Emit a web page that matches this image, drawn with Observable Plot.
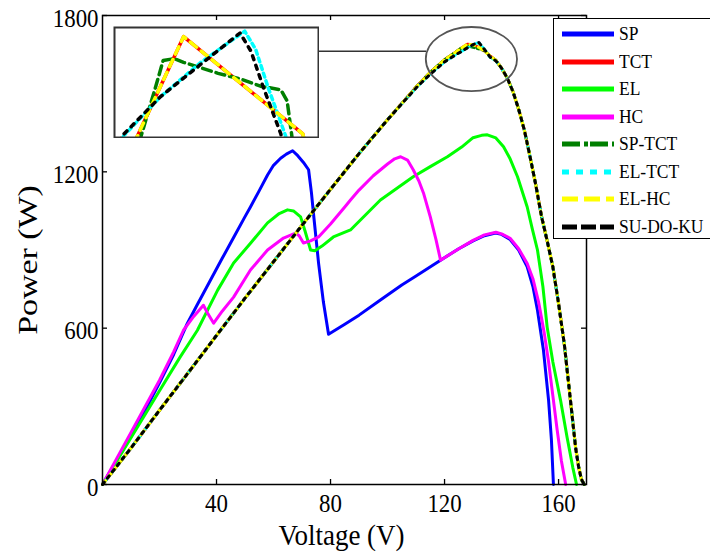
<!DOCTYPE html>
<html><head><meta charset="utf-8">
<script src="https://cdn.jsdelivr.net/npm/d3@7"></script>
<script src="https://cdn.jsdelivr.net/npm/@observablehq/plot@0.6"></script>
<style>
body{margin:0;background:#fff;}
#wrap{position:relative;width:710px;height:554px;overflow:hidden;background:#fff;}
#inset{position:absolute;left:113px;top:26px;}
#legend{position:absolute;left:553px;top:18px;width:170px;height:221px;border:1.5px solid #000;background:#fff;box-sizing:border-box;}
.row{position:absolute;left:8px;height:20px;display:flex;align-items:center;}
.row span{display:inline-block;font-family:"Liberation Serif","Times New Roman",serif;font-size:19px;transform:scaleX(0.92);transform-origin:left center;margin-left:5px;color:#000;}
</style></head><body>
<div id="wrap"><div id="main"></div><div id="inset"></div><div id="legend"></div></div>
<script>
// ---------- data ----------
const seriesNames = ["SP","TCT","EL","HC","SP-TCT","EL-TCT","EL-HC","SU-DO-KU"];
const seriesColors = ["#0000ff","#ff0000","#00ff00","#ff00ff","#007f00","#00ffff","#ffff00","#000000"];

const xTicks = [40, 80, 120, 160];
const yTicks = [0, 600, 1200, 1800];

// SP
const vSP = [0,10,16.8,20,25,29.8,33,37.9,42,46,50,51.9,55,57.9,60,62.5,64.5,66.7,68.5,70.5,72.3,73.3,74,75.8,77.5,79.3,85,90,97.5,105,110,118.6,125,130,134,137.9,140,143,146,149,151,152.6,154.7,156.5,157.5,158.2];
const pSP = [0,185,323,390,500,619,685,785,868,948,1028,1065,1128,1188,1225,1252,1268,1281,1262,1236,1208,1120,1042,850,700,577,615,650,708,766,800,861,905,935,955,965,960,940,900,835,760,669,515,323,170,0];

// EL
const vEL = [0,10,20,27,33.3,40.4,46,52,57.9,62,64.9,67,69.5,71,73,74.5,77,81,87,97.5,109,115,121,126,130,133,135,138,140.7,143,145.6,149,150.8,152.6,154.5,156,158,160.7,163,165,166.3];
const pEL = [0,180,360,485,592,746,850,927,1004,1040,1054,1050,1027,975,900,897,915,950,977,1092,1181,1220,1258,1295,1331,1340,1342,1330,1296,1250,1181,1065,980,900,760,604,470,323,180,65,0];

// HC
const vHC = [0,10,20,25,28.4,32,35.4,37,39,42,46,51.9,57.9,63.5,67.7,69,70.5,73,75.8,80,85,87,90,95,100,102.5,104.6,107,109,111,112.6,115,117,118.6,125,130,134,138,140,143,146,149,151,153,155,156.5,158,159.5,161,162.5];
const pHC = [0,200,400,510,592,645,688,655,619,665,719,823,900,946,965,955,927,935,950,1000,1065,1092,1130,1185,1230,1250,1258,1245,1208,1165,1119,1027,940,861,905,937,958,968,962,945,905,848,790,700,580,470,340,210,90,0];

// shared voltage grid of the five near-identical curves
const vGroup = [0,10,20,30,40,50,60,70,80,90,100,110,115,120,124,126,128,130,132,134,136,138,140,142,144,146,148,150,152,154,156,158,160,162,164,166,167,168,169];
const pTCT    = [0,140,285,428,572,715,855,995,1133,1270,1400,1525,1582,1630,1660,1675,1690,1688,1678,1664,1645,1628,1598,1560,1508,1440,1360,1258,1150,1030,935,835,695,540,340,140,70,20,0];
const pSPTCT  = [0,140,285,428,572,715,855,995,1133,1270,1400,1525,1582,1630,1660,1676,1684,1678,1672,1666,1642,1628,1598,1560,1508,1440,1360,1258,1150,1030,935,835,695,540,340,140,70,20,0];
const pELTCT  = [0,140,285,428,572,715,855,995,1133,1270,1400,1522,1575,1622,1650,1662,1676,1688,1697,1670,1640,1626,1598,1560,1508,1440,1360,1258,1150,1030,935,835,695,540,340,140,70,20,0];
const pELHC   = [0,140,285,428,572,715,855,995,1133,1270,1400,1525,1582,1630,1660,1675,1690,1688,1678,1664,1645,1628,1598,1560,1508,1440,1360,1258,1150,1030,935,835,695,540,340,140,70,20,0];
const pSUDOKU = [0,140,285,428,572,715,855,995,1133,1270,1400,1522,1575,1622,1650,1662,1676,1688,1697,1670,1640,1626,1598,1560,1508,1440,1360,1258,1150,1030,935,835,695,540,340,140,70,20,0];

// inset (zoom of the peak)
const insetXDomain = [124, 137];
const insetYDomain = [1640, 1700];
const ivTCT = [124.9,125.47,128.4,136.0,136.3];
const ipTCT = [1630,1641,1695,1642,1630];
const ivSPTCT = [125.5,125.7,126.6,127.1,127.8,128.4,129.5,130.6,132.0,133.3,134.6,135.0,135.3,135.4];
const ipSPTCT = [1630,1641,1667,1682,1683,1681,1678,1675,1672,1668,1666,1660,1641,1630];
const ivELTCT = [124.0,124.6,126.9,129.5,132.3,133.0,133.8,134.9,135.1];
const ipELTCT = [1633,1641,1662,1681,1698,1688,1667,1641,1630];
const ivELHC = [124.9,125.47,128.4,136.0,136.3];
const ipELHC = [1630,1641,1695,1642,1630];
const ivSUDOKU = [123.9,124.5,126.9,129.5,132.0,132.7,133.5,134.6,134.8];
const ipSUDOKU = [1633,1641,1662,1680,1697,1687,1667,1642,1630];

// annotation: ellipse around the peak and arrow to the inset
const ellipseV = [129.6], ellipseP = [1631], ellipseHalfV = [16], ellipseHalfP = [123];
const arrowFromV = [113.7], arrowToV = [70.2], arrowP = [1661];

// ---------- build ----------
const mainSeries = [
  [vSP, pSP], [vGroup, pTCT], [vEL, pEL], [vHC, pHC],
  [vGroup, pSPTCT], [vGroup, pELTCT], [vGroup, pELHC], [vGroup, pSUDOKU]
];
const mainDash = [null, null, null, null, "6,3,2,3", "2,3", "5,4", "3,5"];
const insetSeries = [
  [1, ivTCT, ipTCT], [4, ivSPTCT, ipSPTCT], [5, ivELTCT, ipELTCT], [6, ivELHC, ipELHC], [7, ivSUDOKU, ipSUDOKU]
];
const insetDash = {1: null, 4: "9,5", 5: "4,4", 6: "8,6", 7: "4,6"};

const toRows = (vs, ps) => vs.map((v, i) => ({V: v, P: ps[i]}));
const serif = '"Liberation Serif","Times New Roman",serif';

const lineMarks = mainSeries.map(([vs, ps], i) =>
  Plot.line(toRows(vs, ps), {x: "V", y: "P", stroke: seriesColors[i], strokeWidth: 3,
    strokeDasharray: mainDash[i] || undefined, strokeLinejoin: "round"}));

const W = 710, H = 554, mL = 102, mR = 124, mT = 15, mB = 70;
const innerW = W - mL - mR, innerH = H - mT - mB;

const ellipseMark = (index, s) => {
  const cx = s.x(ellipseV[0]), cy = s.y(ellipseP[0]);
  const rx = Math.abs(s.x(ellipseV[0] + ellipseHalfV[0]) - cx);
  const ry = Math.abs(s.y(ellipseP[0] + ellipseHalfP[0]) - cy);
  return d3.create("svg:ellipse").attr("cx", cx).attr("cy", cy).attr("rx", rx).attr("ry", ry)
    .attr("fill", "none").attr("stroke", "#555").attr("stroke-width", 1.8).node();
};
const arrowMark = (index, s) => {
  const x1 = s.x(arrowFromV[0]), x2 = s.x(arrowToV[0]), y = s.y(arrowP[0]);
  const g = d3.create("svg:g");
  g.append("line").attr("x1", x1).attr("x2", x2 + 10).attr("y1", y).attr("y2", y)
    .attr("stroke", "#333").attr("stroke-width", 1.5);
  g.append("polygon").attr("points", `${x2},${y} ${x2 + 13},${y - 5} ${x2 + 13},${y + 5}`).attr("fill", "#222");
  return g.node();
};

const main = Plot.plot({
  width: W, height: H, marginLeft: mL, marginRight: mR, marginTop: mT, marginBottom: mB,
  x: {domain: [0, 169.8], axis: null},
  y: {domain: [0, 1800], axis: null},
  style: {background: "#fff", overflow: "visible"},
  marks: [
    ...lineMarks,
    ellipseMark,
    arrowMark,
    Plot.frame({stroke: "#000", strokeWidth: 1.5}),
    Plot.tickX(xTicks, {x: d => d, insetTop: innerH - 5, stroke: "#000", strokeWidth: 1.3}),
    Plot.tickX(xTicks, {x: d => d, insetBottom: innerH - 5, stroke: "#000", strokeWidth: 1.3}),
    Plot.tickY(yTicks, {y: d => d, insetRight: innerW - 5, stroke: "#000", strokeWidth: 1.3}),
    Plot.tickY(yTicks, {y: d => d, insetLeft: innerW - 5, stroke: "#000", strokeWidth: 1.3}),
    Plot.text(xTicks, {x: d => d, frameAnchor: "bottom", textAnchor: "middle", lineAnchor: "top", dy: 9, text: d => String(d),
      fontSize: 26, fontFamily: serif, fill: "#000", className: "tick"}),
    Plot.text(yTicks, {y: d => d, frameAnchor: "left", textAnchor: "end", dx: -4, dy: 3, text: d => String(d),
      fontSize: 26, fontFamily: serif, fill: "#000", className: "tick"}),
    Plot.text(["Voltage (V)"], {frameAnchor: "bottom", textAnchor: "middle", lineAnchor: "top", dy: 39, dx: -3, text: d => d,
      fontSize: 30, fontFamily: serif, fill: "#000", className: "xlabel"}),
    Plot.text(["Power (W)"], {frameAnchor: "left", textAnchor: "middle", rotate: -90, dx: -74, dy: 10, text: d => d,
      fontSize: 32, fontFamily: serif, fill: "#000", className: "ylabel"})
  ]
});
const squeeze = {tick: "scale(0.88,1)", xlabel: "scale(0.9,1)", ylabel: "scale(1.06,0.83)"};
Object.entries(squeeze).forEach(([cls, sc]) => {
  main.querySelectorAll(`g.${cls} text`).forEach(t => {
    t.setAttribute("transform", (t.getAttribute("transform") || "") + " " + sc);
  });
});
document.getElementById("main").appendChild(main);

// inset plot
const inset = Plot.plot({
  width: 206, height: 112, margin: 1,
  x: {domain: insetXDomain, axis: null},
  y: {domain: insetYDomain, axis: null},
  style: {background: "#fff"},
  marks: [
    ...insetSeries.map(([ci, vs, ps]) => Plot.line(toRows(vs, ps), {x: "V", y: "P", stroke: seriesColors[ci],
      strokeWidth: 3.5, strokeDasharray: insetDash[ci] || undefined, clip: true})),
    Plot.frame({stroke: "#333", strokeWidth: 2})
  ]
});
document.getElementById("inset").appendChild(inset);

// legend
const legendDash = [null, null, null, null, "18,4,4,2", "7,7", "16,6", "15,4"];
const legend = d3.select("#legend");
seriesNames.forEach((name, i) => {
  const row = legend.append("div").attr("class", "row").style("top", (5 + i * 27.5) + "px");
  const svg = row.append("svg").attr("width", 52).attr("height", 20);
  svg.append("line").attr("x1", 0).attr("x2", 52).attr("y1", 10).attr("y2", 10)
    .attr("stroke", seriesColors[i]).attr("stroke-width", 5)
    .attr("stroke-dasharray", legendDash[i]);
  row.append("span").text(name);
});
</script>
</body></html>
